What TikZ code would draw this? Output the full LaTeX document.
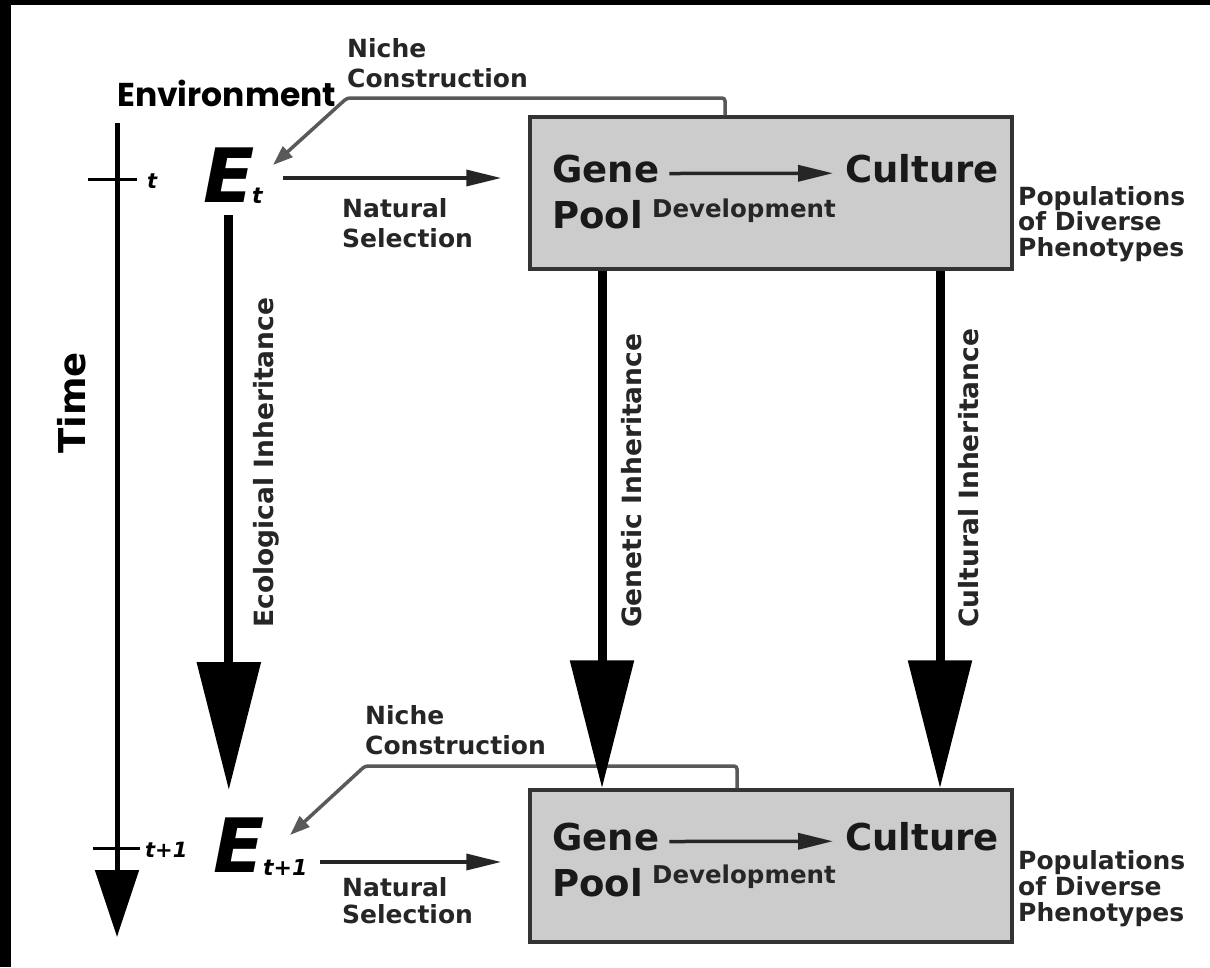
\documentclass[tikz,border=0pt]{standalone}
\usepackage{fontspec}
\setmainfont{DejaVu Sans}
\newfontfamily\envfont{Poppins}
\usetikzlibrary{arrows.meta}
\tikzset{
  lbl/.style={font=\fontsize{25}{28}\selectfont\bfseries, text=black!85, inner sep=0, anchor=base west},
  rlbl/.style={font=\fontsize{26.5}{30}\selectfont\bfseries, text=black!85, inner sep=0, rotate=90, anchor=base west},
  big/.style={font=\fontsize{37}{44}\selectfont\bfseries, text=black!90, inner sep=0, anchor=base west},
  dev/.style={font=\fontsize{24.5}{27}\selectfont\bfseries, text=black!85, inner sep=0, anchor=base west},
  efont/.style={font=\fontsize{75}{80}\selectfont\bfseries\itshape, inner sep=0, anchor=base west},
  sub/.style={font=\fontsize{22}{24}\selectfont\bfseries\itshape, inner sep=0, anchor=base west},
  popbox/.style={draw=black!80, line width=3.5pt, fill=black!20, minimum width=482pt, minimum height=152pt, inner sep=0},
  thinarrow/.style={line width=3.5pt, draw=black!85, -{Triangle[length=35pt,width=16pt]}},
  nichearrow/.style={draw=black!65, line width=3.5pt, rounded corners=3pt, -{Triangle[length=20pt,width=14pt]}},
  bigarrow/.style={line width=9pt, -{Triangle[length=128pt,width=62pt]}},
  timearrow/.style={line width=5pt, -{Triangle[length=67pt,width=43pt]}},
  tick/.style={line width=3pt},
}
\begin{document}
\begin{tikzpicture}[x=1pt,y=-1pt]
\useasboundingbox (0,0) rectangle (1210,967);
\fill[white] (0,0) rectangle (1210,967);
\fill[black] (0,0) rectangle (1210,5);
\fill[black] (0,0) rectangle (11,967);

% Environment title
\node[font=\envfont\fontsize{33}{36}\selectfont\bfseries, anchor=base west, inner sep=0] (env) at (117,106) {Environment};

% Time axis
\coordinate (tA) at (117,123);
\coordinate (tB) at (117,937);
\draw[timearrow] (tA) -- (tB);
\draw[tick] (88,179) -- (137,179);
\draw[tick] (93,848) -- (140,848);
\node[sub, font=\fontsize{21}{24}\selectfont\bfseries\itshape] (tl1) at (147,188) {t};
\node[sub, font=\fontsize{21}{24}\selectfont\bfseries\itshape] (tl2) at (145,857) {t+1};
\node[font=\fontsize{37}{40}\selectfont\bfseries, rotate=90, anchor=base, inner sep=0] (time) at (85,403) {Time};

% Environments
\node[efont] (Et) at (203,202) {E};
\node[sub] (Ets) at (252,203) {t};
\node[efont] (Et1) at (213,872) {E};
\node[sub] (Et1s) at (263,875) {t+1};

% Boxes
\node[popbox] (box1) at (771,193) {};
\node[popbox] (box2) at (771,866) {};

% Top box content
\node[big] (gene1) at (552,182) {Gene};
\node[big] (pool1) at (552,228) {Pool};
\node[big] (cult1) at (845,182) {Culture};
\node[dev] (dev1) at (652,217) {Development};
\draw[thinarrow, shorten <=10pt, shorten >=12pt] ([yshift=-5pt]gene1.east) -- ([yshift=-5pt]cult1.west);

% Bottom box content
\node[big] (gene2) at (552,850) {Gene};
\node[big] (pool2) at (552,896) {Pool};
\node[big] (cult2) at (845,850) {Culture};
\node[dev] (dev2) at (652,883) {Development};
\draw[thinarrow, shorten <=10pt, shorten >=12pt] ([yshift=-5pt]gene2.east) -- ([yshift=-5pt]cult2.west);

% Populations labels
\node[lbl] (pop1a) at (1018,205) {Populations};
\node[lbl] (pop1b) at (1018,230) {of Diverse};
\node[lbl] (pop1c) at (1018,256) {Phenotypes};
\node[lbl] (pop2a) at (1018,869) {Populations};
\node[lbl] (pop2b) at (1018,895) {of Diverse};
\node[lbl] (pop2c) at (1018,921) {Phenotypes};

% Natural selection
\coordinate (ns1) at (283,178);
\draw[thinarrow, shorten >=27pt] (ns1) -- (box1.west |- ns1);
\node[lbl] (nat1) at (342,217) {Natural};
\node[lbl] (sel1) at (342,247) {Selection};
\coordinate (ns2) at (320,862);
\draw[thinarrow, shorten >=27pt] (ns2) -- (box2.west |- ns2);
\node[lbl] (nat2) at (342,896) {Natural};
\node[lbl] (sel2) at (342,923) {Selection};

% Niche construction
\node[lbl] (nic1) at (347,57) {Niche};
\node[lbl] (con1) at (347,87) {Construction};
\coordinate (nc1) at (347,98);
\coordinate (nt1) at (273,165);
\draw[nichearrow] ([xshift=-46pt]box1.north) |- (nc1) -- (nt1);
\node[lbl] (nic2) at (365,724) {Niche};
\node[lbl] (con2) at (365,754) {Construction};
\coordinate (nc2) at (365,766);
\coordinate (nt2) at (290,835);
\draw[nichearrow] ([xshift=-34pt]box2.north) |- (nc2) -- (nt2);

% Inheritance arrows
\draw[bigarrow] ([yshift=-13pt]Et.south) -- ([yshift=27pt]Et.south |- Et1.north);
\draw[bigarrow] ([xshift=-169pt]box1.south) -- ([xshift=-169pt]box2.north);
\draw[bigarrow] ([xshift=169pt]box1.south) -- ([xshift=169pt]box2.north);
\node[rlbl] (eco) at (273,628) {Ecological Inheritance};
\node[rlbl] (gen) at (641,628) {Genetic Inheritance};
\node[rlbl] (cul) at (978,628) {Cultural Inheritance};
\end{tikzpicture}
\end{document}
